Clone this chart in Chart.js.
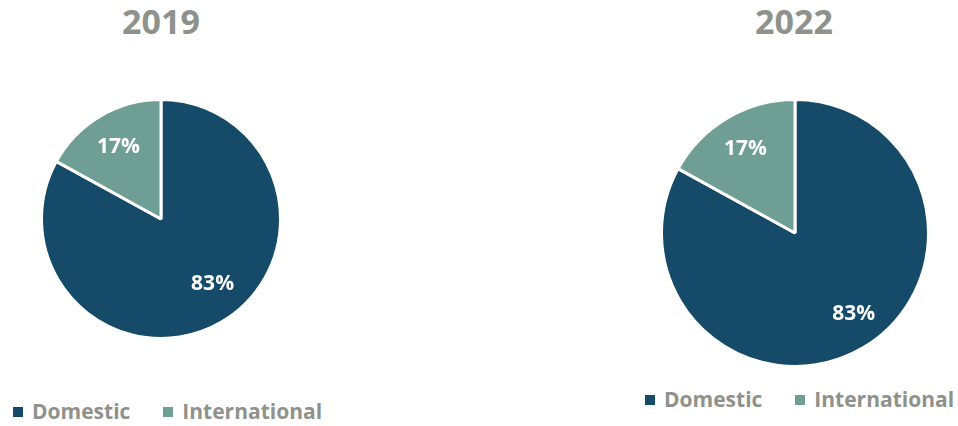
<!DOCTYPE html>
<html>
<head>
<meta charset="utf-8">
<script src="https://cdn.jsdelivr.net/npm/chart.js@4.4.0/dist/chart.umd.min.js"></script>
<style>
  html, body { margin: 0; padding: 0; background: #fff; }
  body { width: 958px; height: 426px; position: relative; overflow: hidden;
         font-family: "Open Sans", "Noto Sans", sans-serif; }
  .title { position: absolute; font-weight: 700; font-size: 34px; color: #8E928B;
           transform: translateX(-50%); white-space: nowrap; line-height: 1; }
  .box { position: absolute; }
  .legend { position: absolute; font-weight: 700; font-size: 21px; color: #8E928B;
            white-space: nowrap; line-height: 1; display: flex; align-items: center; }
  .legend .sw { display: inline-block; width: 10px; height: 10px; margin-right: 9px; }
  .legend .item { display: inline-flex; align-items: center; margin-right: 33px; }
</style>
</head>
<body>
<div class="title" id="t1" style="left:161px; top:4px;"></div>
<div class="title" id="t2" style="left:794px; top:4px;"></div>
<div class="box" style="left:40px; top:98px; width:242px; height:242px;"><canvas id="c1"></canvas></div>
<div class="box" style="left:660px; top:98px; width:270px; height:270px;"><canvas id="c2"></canvas></div>
<div class="legend" id="l1" style="left:13px; top:401px;"></div>
<div class="legend" id="l2" style="left:645px; top:389px;"></div>
<script>
const categories = ["Domestic", "International"];
const years = ["2019", "2022"];
const values2019 = [83, 17];
const values2022 = [83, 17];
const colors = ["#154A69", "#6E9E94"];

const labelPlugin = {
  id: 'sliceLabels',
  afterDatasetsDraw(chart, args, opts) {
    const ctx = chart.ctx;
    const meta = chart.getDatasetMeta(0);
    const data = chart.data.datasets[0].data;
    ctx.save();
    ctx.fillStyle = '#FFFFFF';
    ctx.font = 'bold 21px "Open Sans", "Noto Sans", sans-serif';
    ctx.textAlign = 'center';
    ctx.textBaseline = 'middle';
    meta.data.forEach((arc, i) => {
      const p = arc.getProps(['x', 'y', 'startAngle', 'endAngle', 'outerRadius'], true);
      const mid = (p.startAngle + p.endAngle) / 2;
      const r = p.outerRadius * opts.factor;
      const off = (opts.offsets && opts.offsets[i]) || [0, 0];
      ctx.fillText(data[i] + '%', p.x + Math.cos(mid) * r + off[0], p.y + Math.sin(mid) * r + off[1]);
    });
    ctx.restore();
  }
};

function makePie(id, values, factor, offsets) {
  return new Chart(document.getElementById(id), {
    type: 'pie',
    data: {
      labels: categories,
      datasets: [{ data: values, backgroundColor: colors, borderColor: '#FFFFFF', borderWidth: 3 }]
    },
    options: {
      responsive: true,
      maintainAspectRatio: false,
      animation: false,
      layout: { padding: 0 },
      plugins: {
        legend: { display: false },
        tooltip: { enabled: false },
        title: { display: false },
        sliceLabels: { factor: factor, offsets: offsets }
      }
    },
    plugins: [labelPlugin]
  });
}

makePie('c1', values2019, 0.70, [[9, -7], [0, 0]]);
makePie('c2', values2022, 0.73, [[9, -3], [0, 0]]);

document.getElementById('t1').textContent = years[0];
document.getElementById('t2').textContent = years[1];

function buildLegend(id) {
  const el = document.getElementById(id);
  categories.forEach((c, i) => {
    const item = document.createElement('span');
    item.className = 'item';
    const sw = document.createElement('span');
    sw.className = 'sw';
    sw.style.background = colors[i];
    item.appendChild(sw);
    item.appendChild(document.createTextNode(c));
    el.appendChild(item);
  });
}
buildLegend('l1');
buildLegend('l2');
</script>
</body>
</html>
